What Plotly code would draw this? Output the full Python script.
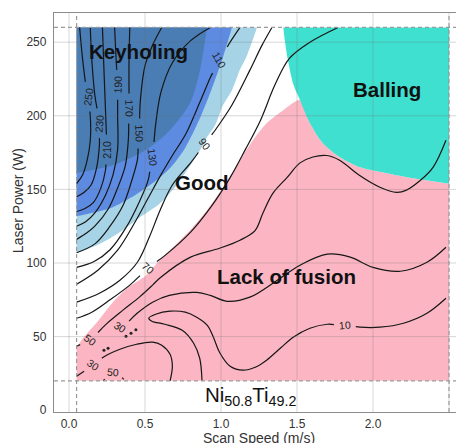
import math
import plotly.graph_objects as go

# ---------------- layout constants ----------------
W, H = 456, 443
M_L, M_R, M_T, M_B = 54, 0, 13, 31
X_RANGE = [-0.0987, 2.546]
Y_RANGE = [-1.2, 269.8]
FONT = "Liberation Sans, Arial, Helvetica, sans-serif"

# ---------------- ticks ----------------
x_ticks = [0.0, 0.5, 1.0, 1.5, 2.0, 2.5]
x_tick_text = ["0.0", "0.5", "1.0", "1.5", "2.0", "2.5"]
y_ticks = [0, 50, 100, 150, 200, 250]
y_tick_text = ["0", "50", "100", "150", "200", "250"]

# process window limits (dashed lines)
v_lim = [0.05, 2.5]
p_lim = [20, 260]

# ---------------- process regions ----------------
balling_x = [1.41, 2.5, 2.5, 2.265, 2.09, 1.915, 1.78, 1.67, 1.585, 1.52, 1.474, 1.44, 1.42, 1.41]
balling_y = [260, 260, 154, 157.6, 161, 165, 172, 181.4, 195, 210.6, 222, 238, 251, 260]

lof_x = [0.05, 2.5, 2.5, 2.265, 2.09, 1.915, 1.78, 1.67, 1.585, 1.52, 1.41, 1.30, 1.21, 1.125, 1.013, 0.908,
         0.796, 0.684, 0.579, 0.5, 0.382, 0.289, 0.184, 0.092, 0.05, 0.05]
lof_y = [20, 20, 154, 157.6, 161, 165, 172, 181.4, 195, 210.6, 203.8, 195, 183.4, 169.8, 151.5, 135.9,
         122.3, 110.7, 99.9, 91, 82.9, 73.4, 59.8, 48.9, 42.8, 20]

light_x = [0.05, 1.237, 1.171, 1.125, 1.072, 1.013, 0.961, 0.908, 0.862, 0.776, 0.697, 0.599, 0.467, 0.336, 0.204, 0.05, 0.05]
light_y = [260, 260, 241, 231.4, 217.4, 207.2, 193.6, 185.5, 176.6, 163, 151.5, 140.6, 131, 121, 113, 106.6, 260]

medium_x = [0.05, 1.072, 1.007, 0.941, 0.862, 0.763, 0.664, 0.533, 0.434, 0.27, 0.05, 0.05]
medium_y = [260, 260, 237.8, 218.8, 198.4, 178, 164.4, 152.9, 146.1, 137.2, 131.8, 260]

keyhole_x = [0.05, 0.908, 0.862, 0.796, 0.664, 0.533, 0.401, 0.27, 0.05, 0.05]
keyhole_y = [260, 260, 231, 208.6, 190.2, 178.7, 171.2, 165.8, 161, 260]

# ---------------- contour lines ----------------
c250_x = [0.07, 0.09, 0.11, 0.125, 0.14, 0.14, 0.12, 0.09, 0.05]
c250_y = [260, 238, 221, 213, 200, 183, 170, 160, 154]
c230_x = [0.14, 0.15, 0.17, 0.20, 0.20, 0.18, 0.145, 0.10, 0.05]
c230_y = [260, 238, 214, 195, 180, 164, 153, 148, 145]
c210_x = [0.22, 0.23, 0.24, 0.25, 0.24, 0.21, 0.16, 0.105, 0.05]
c210_y = [260, 231, 204, 177, 163, 151, 141, 137, 135]
c190_x = [0.30, 0.31, 0.32, 0.32, 0.32, 0.29, 0.24, 0.17, 0.11, 0.05]
c190_y = [260, 238, 221, 200, 177, 160, 146, 134, 128, 125]
c170_x = [0.40, 0.395, 0.395, 0.39, 0.37, 0.32, 0.26, 0.17, 0.11, 0.05]
c170_y = [260, 238, 205, 183, 166, 151, 137, 125, 120, 116]
c150_x = [0.61, 0.55, 0.50, 0.47, 0.46, 0.45, 0.41, 0.355, 0.27, 0.17, 0.05]
c150_y = [260, 248, 234, 211, 188, 170, 155, 139, 125, 113, 107]
c130_x = [0.93, 0.80, 0.68, 0.605, 0.57, 0.55, 0.52, 0.46, 0.375, 0.27, 0.165, 0.05]
c130_y = [260, 251, 236, 216, 194, 172, 156, 141, 124, 109, 101, 97]
c110_x = [1.125, 1.06, 0.99, 0.93, 0.86, 0.77, 0.68, 0.60, 0.52, 0.43, 0.32, 0.19, 0.05]
c110_y = [260, 250, 238, 226, 209, 188, 173, 159, 144, 127, 108.7, 95.1, 85.6]
c90_x = [1.335, 1.27, 1.19, 1.07, 0.96, 0.895, 0.80, 0.68, 0.60, 0.53, 0.45, 0.335, 0.20, 0.05]
c90_y = [260, 248, 231, 207, 190, 181, 168, 153, 136, 118, 100.5, 88.3, 79.5, 73.4]
c70_x = [1.77, 1.585, 1.45, 1.355, 1.26, 1.16, 1.06, 0.94, 0.80, 0.63, 0.52, 0.40, 0.27, 0.15, 0.05]
c70_y = [260, 250, 239, 221, 197, 177, 158, 139, 121, 105, 96.5, 85, 75, 66.6, 62.5]
c50_x = [2.48, 2.395, 2.31, 2.22, 2.155, 2.045, 1.91, 1.78, 1.695, 1.605, 1.52, 1.434, 1.342, 1.276,
         1.224, 1.125, 0.99, 0.80, 0.60, 0.55, 0.465, 0.355, 0.25, 0.14, 0.05]
c50_y = [183.4, 165, 156, 149.5, 148, 151.5, 159.6, 169.8, 173, 172, 168, 158, 147.4, 134,
         122, 115.5, 110, 104, 90, 85, 77, 68, 59, 47.5, 43.5]
c30_x = [2.48, 2.355, 2.18, 2.0, 1.85, 1.70, 1.52, 1.37, 1.19, 1.04, 0.93, 0.84, 0.66, 0.55, 0.45, 0.39, 0.335]
c30_y = [110.7, 100.5, 94.4, 97, 104, 106, 98.5, 88.3, 76.8, 74, 78, 80, 78, 73.4, 66, 60, 56.4]
c10_x = [0.875, 0.86, 0.82, 0.745, 0.63, 0.545, 0.525, 0.57, 0.665, 0.765, 0.84, 0.91, 0.95, 0.99, 1.06,
         1.145, 1.225, 1.30, 1.39, 1.475, 1.585, 1.70, 1.815, 1.915, 2.045, 2.20, 2.355, 2.48]
c10_y = [20, 35.3, 45.5, 54.3, 58.4, 60.5, 62.5, 65.2, 67.3, 66.6, 63.2, 57.7, 49.6, 39.4, 29.9,
         27.2, 29.2, 34, 42.1, 49.6, 55.7, 58.4, 57.7, 56.4, 56.4, 59.1, 65.9, 76.1]
c30b_x = [0.05, 0.16, 0.225, 0.335, 0.445, 0.55, 0.61, 0.665, 0.68, 0.665]
c30b_y = [23.1, 30.6, 36, 41.4, 44.8, 46.2, 44.2, 38, 29.9, 20]
c50b_x = [0.225, 0.255, 0.29, 0.33, 0.36]
c50b_y = [20, 23.8, 25.8, 24.5, 21]

# broken 30-level fragments
dots_x = [0.23, 0.257, 0.375, 0.408, 0.44]
dots_y = [40.8, 42.1, 50.3, 52.3, 54.6]
rings_x = [0.465, 0.497]
rings_y = [57.3, 59.3]

# (x, y, label index, label text)
contours = [
    (c250_x, c250_y, 3, "250"), (c230_x, c230_y, 3, "230"), (c210_x, c210_y, 3, "210"),
    (c190_x, c190_y, 2, "190"), (c170_x, c170_y, 2, "170"), (c150_x, c150_y, 4, "150"),
    (c130_x, c130_y, 5, "130"), (c110_x, c110_y, 2, "110"), (c90_x, c90_y, 5, "90"),
    (c70_x, c70_y, 10, "70"), (c50_x, c50_y, 23, "50"), (c30_x, c30_y, 16, "30"),
    (c10_x, c10_y, 22, "10"), (c30b_x, c30b_y, 1, "30"), (c50b_x, c50b_y, 2, "50"),
]

# ---------------- helpers ----------------
SX = (W - M_L - M_R) / (X_RANGE[1] - X_RANGE[0])
SY = (H - M_T - M_B) / (Y_RANGE[1] - Y_RANGE[0])


def to_px(x, y):
    return x * SX, y * SY


def split_at(xs, ys, k, half):
    P = [to_px(x, y) for x, y in zip(xs, ys)]

    def walk(step):
        rem = half
        i = k
        while True:
            j = i + step
            if j < 0 or j >= len(P):
                return None, None
            d = math.dist(P[i], P[j])
            if d >= rem:
                t = rem / d
                pt = (P[i][0] + t * (P[j][0] - P[i][0]), P[i][1] + t * (P[j][1] - P[i][1]))
                return j, (pt[0] / SX, pt[1] / SY)
            rem -= d
            i = j

    segs = []
    jb, pb = walk(-1)
    if jb is not None:
        segs.append((list(xs[:jb + 1]) + [pb[0]], list(ys[:jb + 1]) + [pb[1]]))
    jf, pf = walk(1)
    if jf is not None:
        segs.append(([pf[0]] + list(xs[jf:]), [pf[1]] + list(ys[jf:])))
    return segs


def label_angle(xs, ys, k):
    a = max(k - 1, 0)
    b = min(k + 1, len(xs) - 1)
    ax, ay = to_px(xs[a], ys[a])
    bx, by = to_px(xs[b], ys[b])
    ang = math.degrees(math.atan2(-(by - ay), bx - ax))
    while ang > 90:
        ang -= 180
    while ang <= -90:
        ang += 180
    return ang


def kinked(xs, ys):
    """Duplicate vertices lying on the process-window frame so the spline keeps sharp corners."""
    ox, oy = [], []
    for x, y in zip(xs, ys):
        ox.append(x)
        oy.append(y)
        if x in v_lim or y in p_lim:
            ox.append(x)
            oy.append(y)
    return ox, oy


fig = go.Figure()


def region(xs, ys, color):
    kx, ky = kinked(xs, ys)
    fig.add_trace(go.Scatter(x=kx, y=ky, mode="lines", fill="toself", fillcolor=color,
                             line=dict(width=0, color=color, shape="spline", smoothing=0.8),
                             hoverinfo="skip", showlegend=False))


region(lof_x, lof_y, "#fcb6c3")
region(balling_x, balling_y, "#40e0d0")
region(light_x, light_y, "#a6d3e5")
region(medium_x, medium_y, "#5d8be2")
region(keyhole_x, keyhole_y, "#4a7db4")

annotations = []
for xs, ys, k, txt in contours:
    half = 4.0 * len(txt) + 3
    for sx, sy in split_at(xs, ys, k, half):
        fig.add_trace(go.Scatter(x=sx, y=sy, mode="lines",
                                 line=dict(color="#161616", width=1.2, shape="spline", smoothing=1.0),
                                 hoverinfo="skip", showlegend=False))
    annotations.append(dict(x=xs[k], y=ys[k], text=txt, showarrow=False,
                            textangle=-label_angle(xs, ys, k),
                            font=dict(family=FONT, size=10.5, color="#222")))

fig.add_trace(go.Scatter(x=dots_x, y=dots_y, mode="markers",
                         marker=dict(size=3, color="#222"), hoverinfo="skip", showlegend=False))
fig.add_trace(go.Scatter(x=rings_x, y=rings_y, mode="markers",
                         marker=dict(size=5, color="rgba(0,0,0,0)", symbol="circle-open",
                                     line=dict(color="#222", width=1.2)),
                         hoverinfo="skip", showlegend=False))

# region names
region_names = ["Keyholing", "Balling", "Good", "Lack of fusion"]
region_name_x = [0.46, 2.095, 0.878, 1.434]
region_name_y = [243.5, 218, 155, 91]
for t, x, y in zip(region_names, region_name_x, region_name_y):
    annotations.append(dict(x=x, y=y, text="<b>%s</b>" % t, showarrow=False,
                            font=dict(family=FONT, size=20.5, color="#111")))

annotations.append(dict(x=1.2, y=10, text="Ni<sub>50.8</sub>Ti<sub>49.2</sub>", showarrow=False,
                        font=dict(family=FONT, size=20.5, color="#111")))

# axis titles
annotations.append(dict(xref="x", yref="paper", x=1.25, y=0, yshift=-26, yanchor="middle",
                        text="Scan Speed (m/s)", showarrow=False,
                        font=dict(family=FONT, size=14, color="#333")))
annotations.append(dict(xref="paper", yref="y", x=0, xshift=-36, y=142, xanchor="center",
                        text="Laser Power (W)", textangle=-90, showarrow=False,
                        font=dict(family=FONT, size=14, color="#333")))

shapes = []
for xv in x_ticks:
    shapes.append(dict(type="line", xref="x", yref="paper", x0=xv, x1=xv, y0=0, y1=1, layer="above",
                       line=dict(color="rgba(110,110,110,0.28)", width=1)))
for yv in y_ticks[1:]:
    shapes.append(dict(type="line", xref="paper", yref="y", x0=0, x1=1, y0=yv, y1=yv, layer="above",
                       line=dict(color="rgba(110,110,110,0.28)", width=1)))
for xv in v_lim:
    shapes.append(dict(type="line", xref="x", yref="paper", x0=xv, x1=xv, y0=0, y1=1, layer="above",
                       line=dict(color="#9a9a9a", width=1.2, dash="4px,3px")))
for yv in p_lim:
    shapes.append(dict(type="line", xref="paper", yref="y", x0=0, x1=1, y0=yv, y1=yv, layer="above",
                       line=dict(color="#9a9a9a", width=1.2, dash="4px,3px")))

fig.update_layout(
    width=W, height=H, margin=dict(l=M_L, r=M_R, t=M_T, b=M_B, pad=0),
    paper_bgcolor="white", plot_bgcolor="white",
    font=dict(family=FONT, color="#333"),
    annotations=annotations, shapes=shapes, showlegend=False,
    xaxis=dict(range=X_RANGE, tickvals=x_ticks, ticktext=x_tick_text, showgrid=False, zeroline=False,
               showline=True, linecolor="#8c8c8c", linewidth=1.3, mirror=True,
               ticks="outside", ticklen=0.5, tickcolor="rgba(0,0,0,0)", tickfont=dict(size=12, color="#333")),
    yaxis=dict(range=Y_RANGE, tickvals=y_ticks, ticktext=y_tick_text, showgrid=False, zeroline=False,
               showline=True, linecolor="#8c8c8c", linewidth=1.3,
               ticks="outside", ticklen=4, tickcolor="rgba(0,0,0,0)", tickfont=dict(size=12, color="#333")),
)

fig.write_html("out.html", config={"displayModeBar": False},
               post_script="document.body.style.margin='0';document.body.style.overflow='hidden';")
